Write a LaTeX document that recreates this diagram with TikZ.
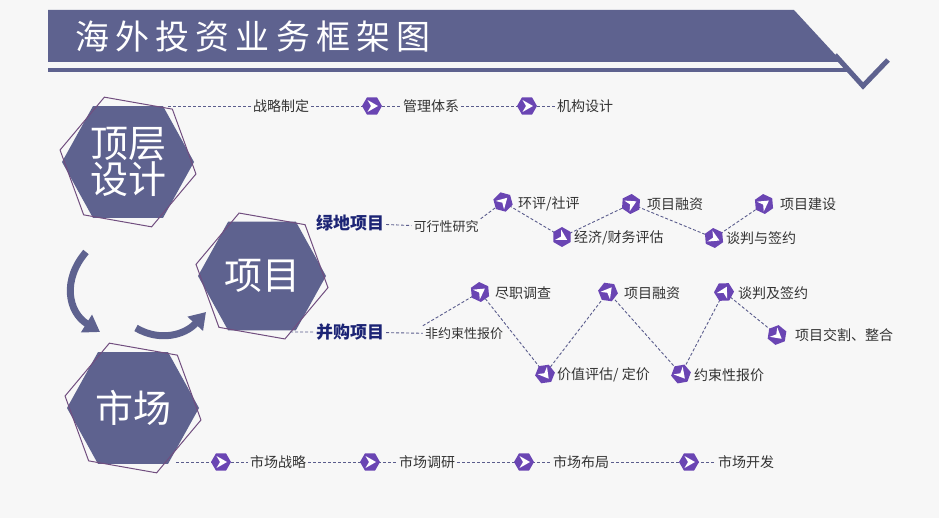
\documentclass[tikz,border=0pt]{standalone}
\usepackage{fontspec}
\setmainfont{Noto Sans CJK SC}
\usetikzlibrary{arrows.meta}
\definecolor{band}{HTML}{5E628F}
\definecolor{purp}{HTML}{6A45B3}
\definecolor{txt}{HTML}{333333}
\definecolor{navy}{HTML}{1C2475}
\definecolor{dash}{HTML}{5A5C8C}
\tikzset{
  lbl/.style={text=txt,font=\fontsize{14}{14}\selectfont,inner sep=2pt},
  blbl/.style={text=navy,font=\fontsize{17}{17}\selectfont\bfseries,inner sep=2pt},
  conn/.style={draw=dash,line width=0.9pt,dash pattern=on 3pt off 2pt},
  ic/.style={circle,minimum size=18pt,inner sep=0pt},
  ico/.pic={
    \fill[purp] (0:10)--(60:10)--(120:10)--(180:10)--(240:10)--(300:10)--cycle;
    \fill[white] (-4.5,-6)--(6,0)--(-4.5,6)--(-1,0)--cycle;
  },
  bigtxt/.style={text=white,font=\fontsize{38}{42}\selectfont,align=center}
}
\newcommand{\bighex}[4]{% center, radius, name, text
  \fill[band] (#1)+(0:#2)--+(58:#2)--+(122:#2)--+(180:#2)--+(238:#2)--+(302:#2)--cycle;
  \draw[band!80!purple,line width=1pt] (#1)+(10:#2+3)--+(70:#2+3)--+(130:#2+3)--+(190:#2+3)--+(250:#2+3)--+(310:#2+3)--cycle;
  \node[bigtxt] (#3) at (#1) {#4};
}
\begin{document}
\begin{tikzpicture}[x=1pt,y=-1pt]
\fill[gray!6] (0,0) rectangle (939,518);
\useasboundingbox (0,0) rectangle (939,518);
% title
\fill[band] (48,10)--(794,10)--(842,62)--(48,62)--cycle;
\fill[band] (48,68)--(848,68)--(848,72)--(48,72)--cycle;
\draw[band,line width=5pt,line join=miter] (835,55)--(863,86)--(888,60);
\node[text=white,font=\fontsize{34}{34}\selectfont,anchor=west] (title) at (72,37) {\addfontfeature{LetterSpace=18}海外投资业务框架图};
% big hexagons
\bighex{128,162}{66}{top}{顶层\\[-6pt]设计}
\bighex{262,276}{64}{proj}{项目}
\bighex{133,408}{66}{mkt}{市场}
% curved arrows
\draw[band,line width=7pt,-{Triangle[width=20pt,length=16pt]}] (86,252) .. controls (62,280) and (68,312) .. (100,332);
\draw[band,line width=7pt,-{Triangle[width=20pt,length=16pt]}] (136,328) .. controls (160,342) and (185,335) .. (206,312);
% coordinates
\coordinate (topR) at (168,106);
\coordinate (mktR) at (176,462);
\coordinate (projR2) at (290,332);
% top row
\node[lbl] (t1) at (281,106) {战略制定};
\node[ic] (ti1) at (372,106) {};
\node[lbl] (t2) at (431,106) {管理体系};
\node[ic] (ti2) at (527,106) {};
\node[lbl] (t3) at (585,106) {机构设计};
% green
\node[blbl] (g0) at (350,223) {绿地项目};
\node[lbl,font=\fontsize{13}{13}\selectfont] (g1) at (446,227) {可行性研究};
\node[ic] (gi1) at (503,202) {}; \node[lbl,anchor=west] (g2) at (516,204) {环评/社评};
\node[ic] (gi2) at (562,237) {}; \node[lbl,anchor=west] (g3) at (572,238) {经济/财务评估};
\node[ic] (gi3) at (631,204) {}; \node[lbl,anchor=west] (g4) at (645,204) {项目融资};
\node[ic] (gi4) at (714,238) {}; \node[lbl,anchor=west] (g5) at (724,238) {谈判与签约};
\node[ic] (gi5) at (764,204) {}; \node[lbl,anchor=west] (g6) at (778,204) {项目建设};
% M&A
\node[blbl] (m0) at (350,332) {并购项目};
\node[lbl,font=\fontsize{13}{13}\selectfont] (m1) at (464,334) {非约束性报价};
\node[ic] (mi1) at (480,292) {}; \node[lbl,anchor=west] (m2) at (493,293) {尽职调查};
\node[ic] (mi2) at (545,374) {}; \node[lbl,anchor=west] (m3) at (555,375) {价值评估/ 定价};
\node[ic] (mi3) at (608,292) {}; \node[lbl,anchor=west] (m4) at (622,293) {项目融资};
\node[ic] (mi4) at (681,374) {}; \node[lbl,anchor=west] (m5) at (692,375) {约束性报价};
\node[ic] (mi5) at (724,292) {}; \node[lbl,anchor=west] (m6) at (736,293) {谈判及签约};
\node[ic] (mi6) at (777,335) {}; \node[lbl,anchor=west] (m7) at (793,335) {项目交割、整合};
% bottom
\node[ic] (bi1) at (221,462) {}; \node[lbl] (b1) at (278,462) {市场战略};
\node[ic] (bi2) at (370,462) {}; \node[lbl] (b2) at (427,462) {市场调研};
\node[ic] (bi3) at (524,462) {}; \node[lbl] (b3) at (581,462) {市场布局};
\node[ic] (bi4) at (689,462) {}; \node[lbl] (b4) at (746,462) {市场开发};
% connectors
\draw[conn] (topR)--(t1) (t1)--(ti1.center) (ti1.center)--(t2) (t2)--(ti2.center) (ti2.center)--(t3);
\draw[conn] (g0)--(g1) (g1.north east)--(gi1.center)--(gi2.center)--(gi3.center)--(gi4.center)--(gi5.center);
\draw[conn] (projR2)--(m0) (m0)--(m1) (m1.north west)--(mi1.center)--(mi2.center)--(mi3.center)--(mi4.center)--(mi5.center)--(mi6.center);
\draw[conn] (mktR)--(bi1.center)--(b1) (b1)--(bi2.center)--(b2) (b2)--(bi3.center)--(b3) (b3)--(bi4.center)--(b4);
% icons
\foreach \n/\a in {ti1/0,ti2/0,gi1/45,gi2/-30,gi3/26,gi4/-25,gi5/35,mi1/35,mi2/-52,mi3/52,mi4/-50,mi5/62,mi6/-39,bi1/0,bi2/0,bi3/0,bi4/0}
  \pic[rotate=\a] at (\n) {ico};
\end{tikzpicture}
\end{document}
